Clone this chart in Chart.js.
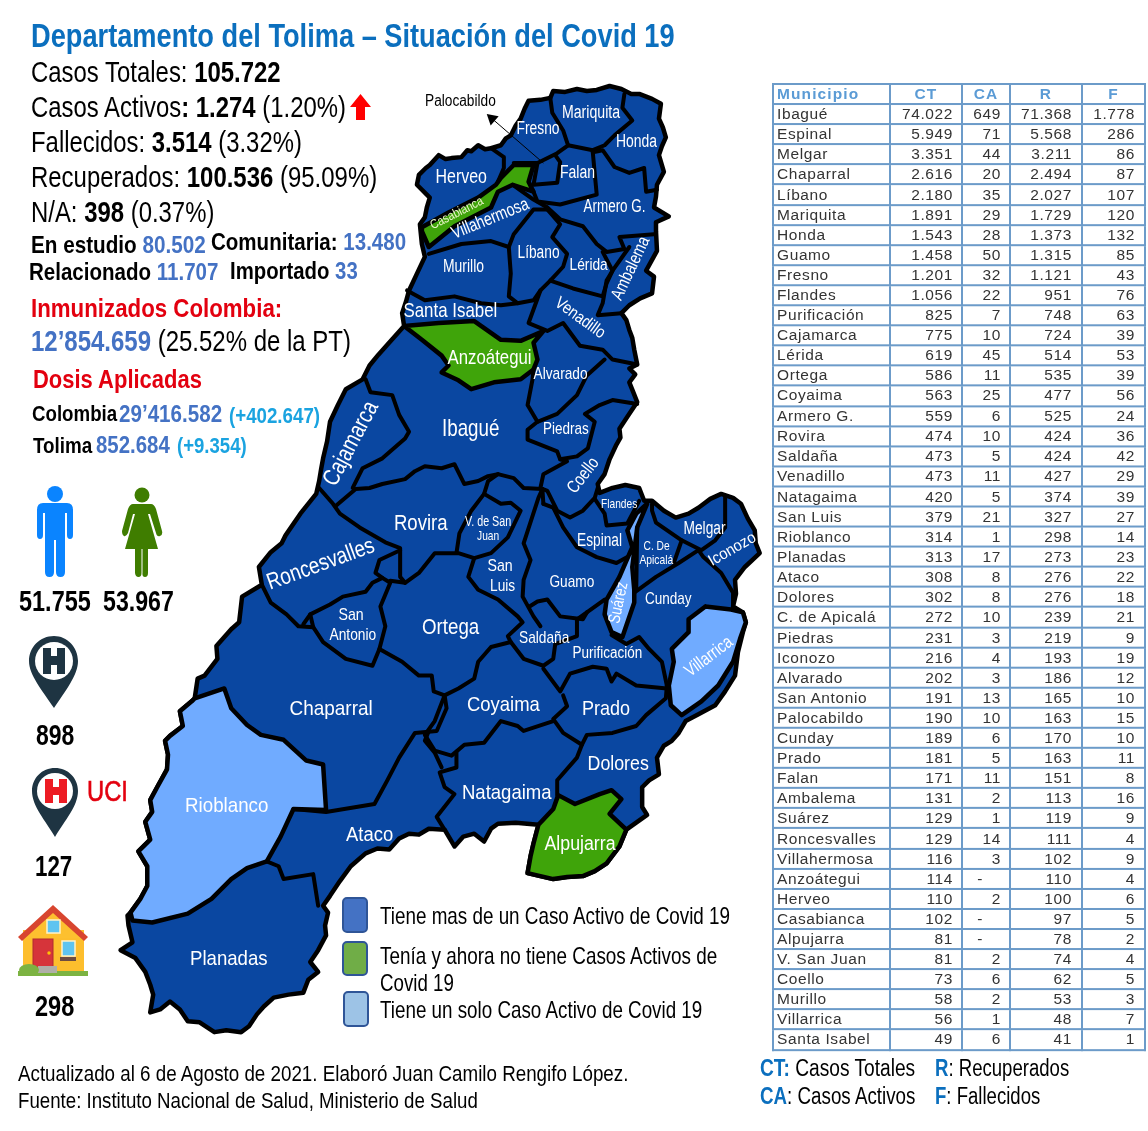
<!DOCTYPE html>
<html lang="es"><head><meta charset="utf-8">
<style>
html,body{margin:0;padding:0;background:#fff;width:1148px;height:1131px;overflow:hidden;font-family:"Liberation Sans",Arial,sans-serif}
#c{position:absolute;left:0;top:0}
.t{position:absolute;white-space:nowrap;transform-origin:left center;line-height:1}
.m{position:absolute;white-space:nowrap;color:#fff;line-height:1;transform-origin:center center}
b{font-weight:700}
.blue{color:#4472C4;font-weight:700}.cy{color:#1AA3E0;font-weight:700}.ttl{color:#0B6FBE;font-weight:700}.red{color:#E3000F;font-weight:700}
table{position:absolute;left:772px;top:83px;width:372px;border-collapse:collapse;table-layout:fixed;font-size:15.5px;color:#333;transform:scaleY(1.0012);transform-origin:left top}
td,th{border:2px solid #6C9BC9;height:20.1px;padding:0 8px 0 3px;box-sizing:border-box;line-height:18px;overflow:hidden;white-space:nowrap}
th{color:#5B9BD5;font-weight:700;text-align:center;padding:0;letter-spacing:1.1px}
th:first-child{text-align:left;padding-left:3px}
td{text-align:right;letter-spacing:.6px}
td:first-child{text-align:left}
td.r{padding-right:9px}
td.f{padding-right:9px}
td.nada{padding-right:26px}
.sw{position:absolute;box-sizing:border-box;border:2px solid #2F5597;border-radius:5px}
svg{position:absolute;left:0;top:0}
</style></head><body>
<canvas id="c" width="1148" height="1131"></canvas>
<svg width="1148" height="1131" viewBox="0 0 1148 1131">
 <path d="M360.5 94 371 107 365 107 365 120 356 120 356 107 350 107Z" fill="#F00"/>
 <g fill="#0A84FF"><circle cx="55" cy="494" r="8"/><path d="M43 503H67Q73 503 73 510V535Q73 539 70 539T67 535V513H65V572Q65 577 60.500 577T56 572V540H54V572Q54 577 49.500 577T45 572V513H43V535Q43 539 40 539T37 535V510Q37 503 43 503Z"/></g>
 <g fill="#3F7D00"><circle cx="142" cy="495" r="7.500"/><path d="M133 504H151Q154 504 156 509L162 531Q163 535 160 536T156 533L150 514 148 514 158 549H148V573Q148 577 145 577T142.500 573V549H141.500V573Q141.500 577 138.500 577T135 573V549H125L135 514H133L128 533Q126 537 124 536T122 531L128 509Q130 504 133 504Z"/></g>
 <path d="M54 636C40 636 29 647 29 661C29 675 42 690 54 708C66 690 78 675 78 661C78 647 67 636 54 636Z" fill="#1E3442"/>
 <circle cx="54" cy="661" r="19" fill="#fff"/>
 <path d="M43 648H51V656H57V648H65V674H57V665H51V674H43Z" fill="#1E3442"/>
 <path d="M55 768C42 768 32 778 32 791C32 806 45 820 55 837C65 820 78 806 78 791C78 778 68 768 55 768Z" fill="#1E3442"/>
 <circle cx="55" cy="791" r="18" fill="#fff"/>
 <path d="M45 779H53V787H59V779H67V803H59V795H53V803H45Z" fill="#ED1C24"/>
 <path d="M23 930H84V972H23Z" fill="#FDBE2D"/>
 <path d="M53 910 84 938H23Z" fill="#FDC02F"/>
 <path d="M53 905 88 937 84 941 53 913 22 941 18 937Z" fill="#D8452F"/>
 <rect x="33" y="939" width="20" height="31" fill="#D6343A" stroke="#B02A30"/>
 <circle cx="49" cy="953" r="1.700" fill="#FFC107"/>
 <rect x="47" y="920" width="13" height="13" fill="#5EC4F0" stroke="#FFF2C9" stroke-width="1.500"/>
 <rect x="62" y="941" width="13" height="15" fill="#5EC4F0" stroke="#FFF2C9" stroke-width="1.500"/>
 <rect x="60" y="957" width="16" height="4" fill="#6D4C41"/>
 <rect x="18" y="971" width="70" height="5" fill="#7CB342"/>
 <rect x="38" y="966" width="19" height="7" fill="#B0AFA8"/>
 <ellipse cx="29" cy="970" rx="10" ry="6" fill="#7CB342"/>
</svg>
<div id="texts"></div>
<div id="labels"></div>
<div class="sw" style="left:342px;top:897px;width:26px;height:36px;background:#4472C4"></div>
<div class="sw" style="left:342px;top:941px;width:26px;height:35px;background:#70AD47"></div>
<div class="sw" style="left:343px;top:991px;width:26px;height:36px;background:#9DC3E6"></div>
<table id="tb"></table>
<script src="https://cdn.jsdelivr.net/npm/chart.js@4"></script>
<script>
const municipios=["Ibagué","Espinal","Melgar","Chaparral","Líbano","Mariquita","Honda","Guamo","Fresno","Flandes","Purificación","Cajamarca","Lérida","Ortega","Coyaima","Armero G.","Rovira","Saldaña","Venadillo","Natagaima","San Luis","Rioblanco","Planadas","Ataco","Dolores","C. de Apicalá","Piedras","Iconozo","Alvarado","San Antonio","Palocabildo","Cunday","Prado","Falan","Ambalema","Suárez","Roncesvalles","Villahermosa","Anzoátegui","Herveo","Casabianca","Alpujarra","V. San Juan","Coello","Murillo","Villarrica","Santa Isabel"];
const CT=["74.022","5.949","3.351","2.616","2.180","1.891","1.543","1.458","1.201","1.056","825","775","619","586","563","559","474","473","473","420","379","314","313","308","302","272","231","216","202","191","190","189","181","171","131","129","129","116","114","110","102","81","81","73","58","56","49"];
const CA=["649","71","44","20","35","29","28","50","32","22","7","10","45","11","25","6","10","5","11","5","21","1","17","8","8","10","3","4","3","13","10","6","5","11","2","1","14","3","-","2","-","-","2","6","2","1","6"];
const RC=["71.368","5.568","3.211","2.494","2.027","1.729","1.373","1.315","1.121","951","748","724","514","535","477","525","424","424","427","374","327","298","273","276","276","239","219","193","186","165","163","170","163","151","113","119","111","102","110","100","97","78","74","62","53","48","41"];
const FA=["1.778","286","86","87","107","120","132","85","43","76","63","39","53","39","56","24","36","42","29","39","27","14","23","22","18","21","9","19","12","10","15","10","11","8","16","9","4","9","4","6","5","2","4","5","3","7","1"];
const cabecera=["Municipio","CT","CA","R","F"];

const contorno=[[417,170],[424,163],[428,160],[437,150],[444,154],[450,153],[460,152],[466,145],[470,146],[477,140],[484,144],[490,143],[500,140],[505,133],[510,130],[515,120],[520,113],[524,103],[528,95],[540,94],[550,92],[553,85],[565,86],[577,83],[587,85],[597,84],[610,80],[622,83],[632,88],[640,88],[653,93],[662,98],[660,113],[664,122],[667,132],[663,141],[660,150],[665,167],[658,180],[657,192],[655,203],[670,212],[657,218],[657,227],[658,247],[647,267],[655,273],[653,290],[641,295],[630,302],[622,310],[627,317],[630,327],[633,335],[635,347],[638,362],[630,366],[636,372],[630,380],[634,390],[638,400],[628,415],[620,427],[621,436],[617,443],[610,458],[605,473],[598,483],[600,492],[613,487],[626,484],[640,487],[645,500],[653,500],[665,510],[677,517],[690,513],[700,507],[712,498],[723,493],[735,497],[743,503],[750,518],[757,530],[758,543],[762,553],[747,567],[737,580],[738,594],[735,607],[745,613],[748,623],[745,633],[740,653],[737,677],[727,693],[717,707],[700,716],[687,723],[680,735],[673,743],[665,748],[658,760],[660,777],[650,783],[643,790],[643,810],[648,818],[627,833],[620,850],[607,867],[595,875],[583,880],[567,881],[553,883],[540,880],[527,877],[530,860],[533,847],[538,828],[515,826],[497,827],[490,832],[483,845],[473,837],[462,840],[453,850],[443,833],[427,832],[417,838],[407,837],[397,842],[387,853],[375,852],[363,857],[348,870],[337,885],[327,900],[320,910],[325,917],[322,930],[323,940],[315,955],[307,967],[315,977],[305,985],[300,998],[285,1000],[270,1003],[260,1012],[253,1020],[245,1032],[237,1038],[222,1036],[210,1038],[195,1028],[183,1027],[175,1015],[165,1007],[155,1015],[145,1018],[148,1000],[145,990],[140,977],[130,963],[115,955],[127,947],[123,930],[122,920],[125,917],[135,903],[142,890],[142,870],[133,855],[145,843],[140,825],[147,815],[145,803],[152,790],[162,772],[163,757],[160,743],[165,738],[178,728],[175,713],[187,703],[190,700],[193,680],[200,677],[213,660],[212,647],[227,630],[235,623],[238,597],[258,585],[255,567],[267,552],[278,543],[282,535],[297,513],[313,493],[316,480],[318,468],[320,457],[324,440],[327,420],[335,403],[343,387],[360,377],[367,363],[376,352],[385,342],[402,323],[400,310],[404,298],[407,287],[415,270],[423,253],[420,240],[418,220],[423,213],[425,203],[428,193],[415,180],[417,170]];
const casabianca=[[420,223],[447,208],[477,193],[495,180],[500,173],[513,160],[533,160],[528,177],[533,187],[512,180],[497,187],[490,203],[453,222],[427,243],[420,227],[420,223]];
const anzoategui=[[402,323],[437,320],[473,318],[500,337],[520,338],[543,328],[533,340],[537,357],[533,367],[520,377],[493,380],[470,387],[457,378],[440,370],[447,363],[440,353],[420,337],[402,323]];
const suarez=[[648,503],[637,513],[628,530],[633,547],[620,577],[607,600],[605,615],[612,633],[623,638],[635,603],[635,590],[633,567],[638,527],[648,503]];
const villarrica=[[707,607],[690,620],[690,633],[673,650],[675,663],[670,687],[672,707],[683,717],[703,703],[720,687],[735,663],[742,640],[748,623],[745,613],[733,610],[707,607]];
const alpujarra=[[558,798],[575,807],[600,797],[612,793],[622,802],[610,817],[627,833],[620,850],[607,867],[595,875],[583,880],[567,881],[553,883],[540,880],[527,877],[530,860],[533,847],[538,828],[553,812],[558,798]];
const rioblanco=[[190,700],[220,690],[227,710],[243,727],[257,737],[280,742],[303,763],[320,767],[323,813],[290,812],[277,840],[263,865],[243,872],[227,883],[207,903],[183,918],[147,927],[127,925],[125,917],[135,903],[142,890],[142,870],[133,855],[145,843],[140,825],[147,815],[145,803],[152,790],[162,772],[163,757],[160,743],[165,738],[178,728],[175,713],[187,703],[190,700]];
const limites=[
 [[490,143],[503,152],[503,163],[497,177]],
 [[513,158],[537,158],[557,148],[568,140],[563,125],[552,107],[550,92]],
 [[568,140],[593,145],[605,140],[615,130],[633,115],[623,102],[625,88]],
 [[593,147],[603,145],[615,162],[630,168],[645,163],[647,187],[658,185]],
 [[537,158],[533,180],[557,178],[560,157],[555,150]],
 [[533,187],[537,197],[560,200],[597,190],[593,147]],
 [[547,203],[560,215],[583,222],[597,240],[607,248],[625,245],[620,233],[655,230]],
 [[512,180],[533,195],[547,203]],
 [[547,205],[533,205],[513,230],[508,243],[490,237],[460,240],[427,250]],
 [[547,205],[560,220],[552,233],[567,250],[563,263],[550,277],[540,287],[533,297],[517,300],[508,293],[510,270],[508,243]],
 [[405,287],[423,297],[453,293],[480,300],[500,302],[517,300]],
 [[550,277],[573,285],[603,293],[607,280],[613,267],[603,248]],
 [[630,243],[613,267],[607,277],[603,300],[598,312],[622,310]],
 [[540,287],[528,320],[547,328],[563,320],[580,343],[603,347],[613,357],[638,362]],
 [[533,367],[532,377],[527,403],[537,420],[557,412],[577,393],[587,373],[605,357]],
 [[537,420],[527,428],[527,438],[557,450],[560,458],[577,455],[588,447],[595,420],[585,412],[600,403],[613,398],[638,402]],
 [[560,458],[567,460],[543,473],[540,487],[547,490],[557,510],[570,517],[583,510],[595,497],[598,487]],
 [[333,505],[353,488],[367,487],[380,483],[403,478],[413,470],[423,465],[440,467],[453,463],[460,477],[463,483],[477,480],[487,475],[497,473],[513,477],[523,487],[542,488]],
 [[363,377],[368,390],[390,393],[397,413],[407,430],[403,437],[380,457],[360,467],[350,487]],
 [[316,487],[330,503],[337,513],[357,527],[383,542],[398,548],[398,577],[403,583]],
 [[398,550],[377,560],[373,573],[380,578],[370,583],[363,592],[340,597],[327,605],[307,615],[300,625]],
 [[258,585],[267,603],[283,615],[295,627],[310,628],[320,643],[343,660],[370,667],[377,650],[383,627],[378,607],[388,583],[380,578]],
 [[307,615],[310,628]],
 [[377,650],[400,663],[417,677],[430,677],[432,693],[443,697],[445,710],[435,733],[413,735],[397,760],[385,783],[372,807],[323,815],[290,812]],
 [[388,581],[403,583],[417,573],[433,553],[457,553],[473,558],[490,553],[507,537],[520,510],[510,502],[500,503],[483,493],[470,510],[458,533],[455,553]],
 [[483,493],[487,480],[497,473]],
 [[542,488],[538,497],[523,543],[530,560],[523,580],[522,597],[533,617],[540,627]],
 [[473,558],[467,577],[477,590],[497,600],[517,617],[522,623],[507,637],[510,643],[523,660],[543,667],[553,660],[555,645],[577,637],[577,620],[587,613],[605,600]],
 [[543,503],[553,507],[563,527],[577,547],[597,557],[617,563],[628,557]],
 [[542,488],[543,503]],
 [[595,498],[605,513],[607,525],[628,523],[640,500]],
 [[529,607],[537,602],[547,600],[560,617],[583,620],[587,613]],
 [[612,636],[627,645],[640,638],[650,650],[663,663],[668,687]],
 [[543,670],[560,693],[570,675],[593,668],[607,670],[612,683],[617,675],[637,687],[668,690]],
 [[563,697],[567,708],[553,721],[563,735],[582,747],[587,737],[613,735],[637,728],[647,717],[667,700],[668,687]],
 [[510,643],[490,648],[477,663],[473,680],[457,690],[443,697],[433,723],[423,737],[433,753],[450,758],[463,747],[483,745],[500,723],[517,728],[523,733],[553,723]],
 [[582,747],[577,760],[557,783],[557,798]],
 [[455,755],[455,770],[438,775],[443,790],[453,797],[435,820],[443,833]],
 [[427,733],[423,743],[433,755],[440,770]],
 [[263,865],[275,870],[280,883],[310,878],[315,910]],
 [[638,527],[637,590]],
 [[653,503],[653,510],[657,522],[683,540],[675,563]],
 [[635,593],[657,577],[680,563],[700,550],[705,557],[723,573],[735,593],[735,607]],
 [[727,495],[727,527],[717,540],[703,550],[683,540]]
];
const flecha=[[543,158],[491,113]];

const lineas=[
 [31,35,675,33,'<span class="ttl">Departamento del Tolima – Situación del Covid 19</span>'],
 [31,72,281,29,'Casos Totales: <b>105.722</b>'],
 [31,107,346,29,'Casos Activos<b>: 1.274</b> (1.20%)'],
 [31,142,302,29,'Fallecidos: <b>3.514</b> (3.32%)'],
 [31,177,377,29,'Recuperados: <b>100.536</b> (95.09%)'],
 [31,212,214,29,'N/A: <b>398</b> (0.37%)'],
 [31,245,206,24,'<b>En estudio</b> <span class="blue">80.502</span>'],
 [211,242,406,24,'<b>Comunitaria:</b> <span class="blue">13.480</span>'],
 [29,272,218,24,'<b>Relacionado</b> <span class="blue">11.707</span>'],
 [230,271,358,24,'<b>Importado</b> <span class="blue">33</span>'],
 [31,308,282,26,'<span class="red">Inmunizados Colombia:</span>'],
 [31,341,351,29,'<span class="blue">12’854.659</span> (25.52% de la PT)'],
 [33,379,202,26,'<span class="red">Dosis Aplicadas</span>'],
 [32,414,117,22,'<b>Colombia</b>'],
 [119,414,222,24,'<span class="blue">29’416.582</span>'],
 [229,416,320,22,'<span class="cy">(+402.647)</span>'],
 [33,446,92,22,'<b>Tolima</b>'],
 [96,445,170,24,'<span class="blue">852.684</span>'],
 [177,446,247,22,'<span class="cy">(+9.354)</span>'],
 [19,601,91,30,'<b>51.755</b>'],
 [103,601,174,30,'<b>53.967</b>'],
 [36,735,74,29,'<b>898</b>'],
 [35,866,72,29,'<b>127</b>'],
 [35,1006,74,29,'<b>298</b>'],
 [87,791,128,29,'<span style="color:#E3000F;-webkit-text-stroke:.6px #E3000F">UCI</span>'],
 [425,101,496,16,'Palocabildo'],
 [380,916,730,24,'Tiene mas de un Caso Activo de Covid 19'],
 [380,956,717,24,'Tenía y ahora no tiene Casos Activos de'],
 [380,983,454,24,'Covid 19'],
 [380,1010,702,24,'Tiene un solo Caso Activo de Covid 19'],
 [18,1074,628,22,'Actualizado al 6 de Agosto de 2021. Elaboró Juan Camilo Rengifo López.'],
 [18,1101,478,22,'Fuente: Instituto Nacional de Salud, Ministerio de Salud'],
 [760,1068,915,23,'<span class="ttl">CT:</span> Casos Totales'],
 [760,1096,915,23,'<span class="ttl">CA</span>: Casos Activos'],
 [935,1068,1069,23,'<span class="ttl">R</span>: Recuperados'],
 [935,1096,1040,23,'<span class="ttl">F</span>: Fallecidos']
];
const rotulos=[
 ["Mariquita",591,112,58,18,0],["Fresno",538,128,43,18,0],["Honda",636,141,41,18,0],["Herveo",461,176,51,20,0],["Falan",577,172,35,18,0],["Armero G.",614,206,62,18,0],
 ["Casabianca",456,212,58,13,-27],["Villahermosa",490,218,82,18,-22],["Líbano",538,252,42,18,0],["Murillo",463,266,41,18,0],["Lérida",588,264,38,17,0],["Ambalema",630,268,68,18,-65],
 ["Santa Isabel",450,309,94,21,0],["Venadillo",580,317,58,17,36],["Anzoátegui",489,356,84,21,0],["Alvarado",560,373,54,17,0],["Ibagué",470,428,57,24,0],["Piedras",566,428,46,17,0],
 ["Cajamarca",350,443,92,24,-62],["Coello",582,475,40,18,-52],["Flandes",619,503,36,13,0],["Rovira",421,523,54,22,0],["V. de San",488,521,46,14,0],["Juan",488,535,22,13,0],
 ["Espinal",599,540,45,18,0],["C. De",656,545,26,13,0],["Apicalá",656,559,34,13,0],["Melgar",704,528,42,18,0],["Iconozo",732,549,52,16,-30],["Roncesvalles",320,563,113,23,-20],
 ["San",351,614,25,17,0],["Antonio",353,634,47,17,0],["San",500,565,25,17,0],["Luis",502,585,25,17,0],["Guamo",572,581,45,17,0],["Cunday",668,598,47,17,0],["Suárez",618,602,42,17,-78],
 ["Ortega",450,627,57,22,0],["Saldaña",544,637,50,17,0],["Purificación",607,653,70,16,0],["Villarrica",708,656,55,18,-37],["Chaparral",331,707,83,21,0],["Coyaima",503,703,73,21,0],
 ["Prado",606,707,48,21,0],["Dolores",618,762,61,21,0],["Natagaima",507,791,90,21,0],["Rioblanco",226,804,83,21,0],["Ataco",369,834,47,20,0],["Alpujarra",580,843,71,20,0],["Planadas",229,957,78,21,0]
];

const tb=document.getElementById('tb');
const anchos=[117,72,48,72,63];
let html='<colgroup>'+anchos.map(a=>`<col style="width:${a}px">`).join('')+'</colgroup>';
html+='<tr>'+cabecera.map(h=>`<th>${h}</th>`).join('')+'</tr>';
municipios.forEach((m,i)=>{
 html+=`<tr><td>${m}</td><td>${CT[i]}</td><td class="${CA[i]==='-'?'nada':''}">${CA[i]}</td><td class="r">${RC[i]}</td><td class="f">${FA[i]}</td></tr>`;
});
tb.innerHTML=html;

const tx=document.getElementById('texts');
lineas.forEach(([x,y,r,s,h])=>{
 const d=document.createElement('div');d.className='t';d.style.left=x+'px';d.style.top=(y-s/2)+'px';d.style.fontSize=s+'px';d.innerHTML=h;tx.appendChild(d);
 d.style.transform=`scaleX(${(r-x)/d.offsetWidth})`;
});
const lb=document.getElementById('labels');
rotulos.forEach(([n,x,y,w,s,a])=>{
 const d=document.createElement('div');d.className='m';d.textContent=n;d.style.fontSize=s+'px';lb.appendChild(d);
 const ow=d.offsetWidth;d.style.left=(x-ow/2)+'px';d.style.top=(y-s/2)+'px';
 d.style.transform=`rotate(${a}deg) scaleX(${w/ow})`;
 if(n==="Casabianca")d.style.color="#E8F5C8";
});

const pts=a=>a.map(([x,y])=>({x,y}));
const AZUL='#0A47A1',VERDE='#3FA40A',CLARO='#70ABFF',NEGRO='#000';
const region=(label,a,color)=>({label,data:pts(a),showLine:true,fill:'shape',backgroundColor:color,borderColor:NEGRO,borderWidth:4.5,pointRadius:0,tension:0,borderJoinStyle:'round',borderCapStyle:'round'});
const datasets=[
 region('Tolima',contorno,AZUL),
 region('Casabianca',casabianca,VERDE),
 region('Anzoátegui',anzoategui,VERDE),
 region('Alpujarra',alpujarra,VERDE),
 region('Rioblanco',rioblanco,CLARO),
 region('Villarrica',villarrica,CLARO),
 region('Suárez',suarez,CLARO),
 ...limites.map((l,i)=>({label:'limite'+i,data:pts(l),showLine:true,fill:false,borderColor:NEGRO,borderWidth:4,pointRadius:0,tension:0,borderJoinStyle:'round',borderCapStyle:'round'})),
 {label:'Palocabildo',data:pts(flecha),showLine:true,fill:false,borderColor:'#000',borderWidth:1,pointRadius:[0,7],pointStyle:'triangle',pointRotation:-49,pointBackgroundColor:'#000',pointBorderWidth:0,tension:0}
];
new Chart(document.getElementById('c'),{
 type:'scatter',
 data:{datasets:datasets.reverse()},
 options:{responsive:false,animation:false,events:[],layout:{padding:0},
  plugins:{legend:{display:false},tooltip:{enabled:false},title:{display:false}},
  scales:{x:{type:'linear',min:0,max:1148,display:false},y:{type:'linear',min:0,max:1131,reverse:true,display:false}}}
});
</script>
</body></html>
